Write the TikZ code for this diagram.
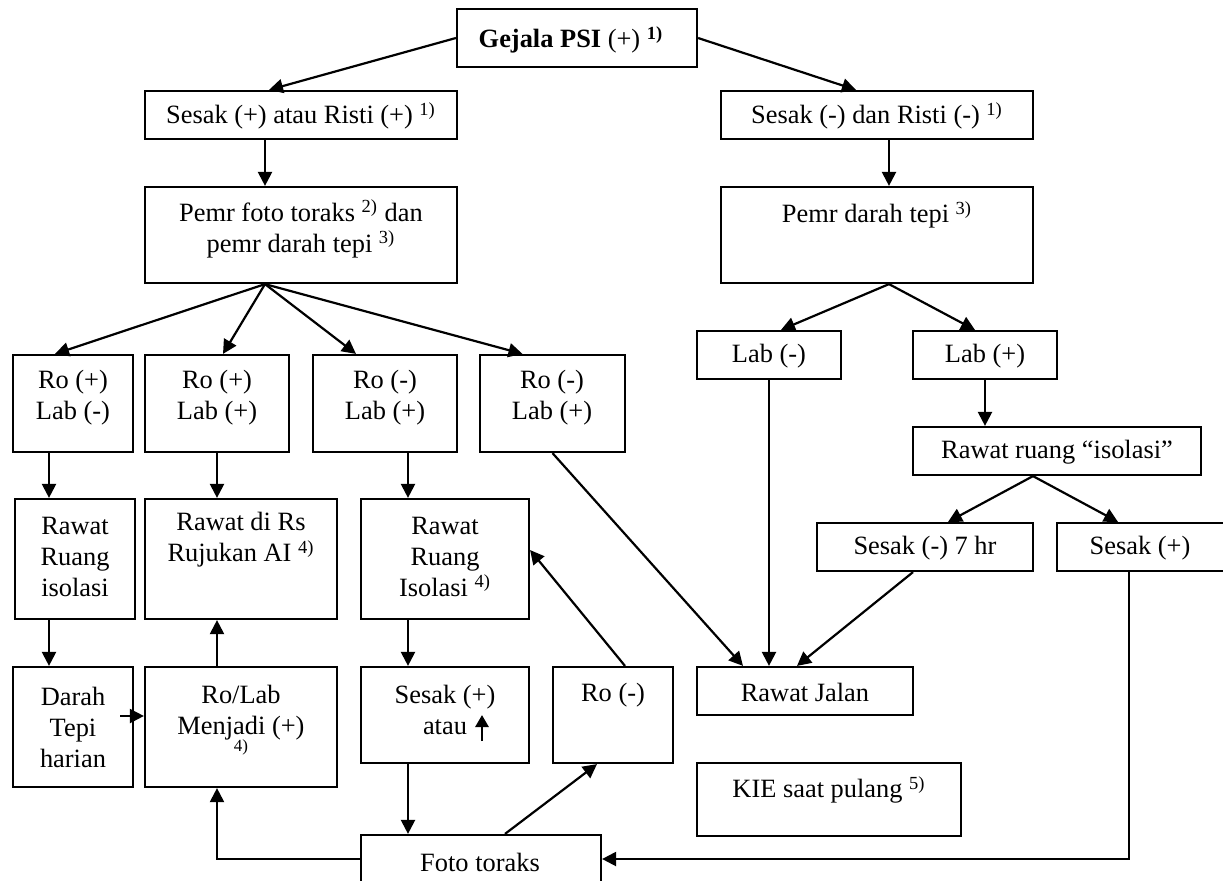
\documentclass[tikz,border=0pt]{standalone}
\usepackage{fontspec}
\setmainfont{Liberation Serif}
\usetikzlibrary{arrows.meta}
\tikzset{every picture/.style={line width=1.1pt}}

\begin{document}
\begin{tikzpicture}[x=0.5pt,y=0.5pt,yscale=-1,xscale=1,
  box/.style={draw, inner sep=0pt},
  txt/.style={inner sep=0pt, align=center, font=\fontsize{13.2}{15.5}\selectfont},
  arr/.style={-{Triangle[length=7pt,width=7pt]}}]
\useasboundingbox (0,0) rectangle (1223,880);

%Boxes: top rows
\node[box, minimum width=120pt, minimum height=29pt] (gejala) at (577,38) {};
\node[box, minimum width=156pt, minimum height=24pt] (sesakp) at (301,115) {};
\node[box, minimum width=156pt, minimum height=24pt] (sesakm) at (877,115) {};
\node[box, minimum width=156pt, minimum height=48pt] (pemrft) at (301,235) {};
\node[box, minimum width=156pt, minimum height=48pt] (pemrdt) at (877,235) {};
%Boxes: Ro / Lab row
\node[box, minimum width=60pt, minimum height=48.5pt] (roA) at (73,403.5) {};
\node[box, minimum width=72pt, minimum height=48.5pt] (roB) at (217,403.5) {};
\node[box, minimum width=72pt, minimum height=48.5pt] (roC) at (385,403.5) {};
\node[box, minimum width=72.5pt, minimum height=48.5pt] (roD) at (552.5,403.5) {};
\node[box, minimum width=72pt, minimum height=24pt] (labm) at (769,355) {};
\node[box, minimum width=72pt, minimum height=24pt] (labp) at (985,355) {};
\node[box, minimum width=144pt, minimum height=24pt] (rawatri) at (1057,451) {};
\node[box, minimum width=108pt, minimum height=24pt] (sesak7) at (925,547) {};
\node[box, minimum width=86pt, minimum height=24pt] (sesakpp) at (1143,547) {};
%Boxes: Rawat row
\node[box, minimum width=60pt, minimum height=60pt] (rawatA) at (75,559) {};
\node[box, minimum width=96pt, minimum height=60pt] (rawatrs) at (241,559) {};
\node[box, minimum width=84pt, minimum height=60pt] (rawatiso) at (445,559) {};
%Boxes: bottom rows
\node[box, minimum width=60pt, minimum height=60pt] (darah) at (73,727) {};
\node[box, minimum width=96pt, minimum height=60pt] (rolab) at (241,727) {};
\node[box, minimum width=84pt, minimum height=48pt] (sesakatau) at (445,715) {};
\node[box, minimum width=60pt, minimum height=48pt] (rom) at (613,715) {};
\node[box, minimum width=108pt, minimum height=24pt] (rawatjalan) at (805,691) {};
\node[box, minimum width=132pt, minimum height=36.5pt] (kie) at (829,799.5) {};
\node[box, minimum width=120pt, minimum height=24pt] (foto) at (481,859) {};

%Texts
\node[txt] (gejala-t) at (571,40) {\textbf{Gejala PSI} (+) \textsuperscript{\textbf{1)}}};
\node[txt] (sesakp-t) at (301,116) {Sesak (+) atau Risti (+) \textsuperscript{1)}};
\node[txt] (sesakm-t) at (877,116) {Sesak (-) dan Risti (-) \textsuperscript{1)}};
\node[txt] (pemrft-t) at (301,229) {Pemr foto toraks \textsuperscript{2)} dan\\pemr darah tepi \textsuperscript{3)}};
\node[txt] (pemrdt-t) at (877,215) {Pemr darah tepi \textsuperscript{3)}};
\node[txt] (roA-t) at (73,398) {Ro (+)\\Lab (-)};
\node[txt] (roB-t) at (217,398) {Ro (+)\\Lab (+)};
\node[txt] (roC-t) at (385,398) {Ro (-)\\Lab (+)};
\node[txt] (roD-t) at (552,398) {Ro (-)\\Lab (+)};
\node[txt] (labm-t) at (769,356) {Lab (-)};
\node[txt] (labp-t) at (985,356) {Lab (+)};
\node[txt] (rawatri-t) at (1057,452) {Rawat ruang “isolasi”};
\node[txt] (sesak7-t) at (925,548) {Sesak (-) 7 hr};
\node[txt] (sesakpp-t) at (1140,548) {Sesak (+)};
\node[txt] (rawatA-t) at (75,557) {Rawat\\Ruang\\isolasi};
\node[txt] (rawatrs-t) at (241,540) {Rawat di Rs\\Rujukan AI \textsuperscript{4)}};
\node[txt] (rawatiso-t) at (445,557) {Rawat\\Ruang\\Isolasi \textsuperscript{4)}};
\node[txt] (darah-t) at (73,727) {Darah\\Tepi\\harian};
\node[txt] (rolab-t) at (241,720) {Ro/Lab\\Menjadi (+)\\[-7pt]{\fontsize{8.5}{9}\selectfont 4)}};
\node[txt] (sesakatau-t) at (445,710) {Sesak (+)\\atau};
\node[txt] (rom-t) at (613,695) {Ro (-)};
\node[txt] (rawatjalan-t) at (805,692) {Rawat Jalan};
\node[txt] (kie-t) at (829,790) {KIE saat pulang \textsuperscript{5)}};
\node[txt] (foto-t) at (480,862) {Foto toraks};
%up arrow after "atau"
\draw[-{Triangle[length=6pt,width=6.5pt]}, line width=1.4pt] (482,741) -- (482,715);

%Connectors
\draw[arr] (gejala.west) -- ([xshift=-16pt]sesakp.north);
\draw[arr] (gejala.east) -- ([xshift=-10.5pt]sesakm.north);
\draw[arr] ([xshift=-18pt]sesakp.south) -- ([xshift=-18pt]pemrft.north);
\draw[arr] ([xshift=6pt]sesakm.south) -- ([xshift=6pt]pemrdt.north);
\draw[arr] ([xshift=-18pt]pemrft.south) -- ([xshift=-9pt]roA.north);
\draw[arr] ([xshift=-18pt]pemrft.south) -- ([xshift=3pt]roB.north);
\draw[arr] ([xshift=-18pt]pemrft.south) -- ([xshift=-14.5pt]roC.north);
\draw[arr] ([xshift=-18pt]pemrft.south) -- ([xshift=-15pt]roD.north);
\draw[arr] ([xshift=6pt]pemrdt.south) -- ([xshift=6pt]labm.north);
\draw[arr] ([xshift=6pt]pemrdt.south) -- ([xshift=-5pt]labp.north);
\draw[arr] ([xshift=-12pt]roA.south) -- ([xshift=-12pt]roA.south |- rawatA.north);
\draw[arr] (roB.south) -- (roB.south |- rawatrs.north);
\draw[arr] ([xshift=11.5pt]roC.south) -- ([xshift=11.5pt]roC.south |- rawatiso.north);
\draw[arr] (roD.south) -- ([xshift=-31pt]rawatjalan.north);
\draw[arr] (labm.south) -- (labm.south |- rawatjalan.north);
\draw[arr] ([xshift=-6pt]sesak7.south) -- ([xshift=-4pt]rawatjalan.north);
\draw[arr] (labp.south) -- (labp.south |- rawatri.north);
\draw[arr] ([xshift=-12pt]rawatri.south) -- ([xshift=11.5pt]sesak7.north);
\draw[arr] ([xshift=-12pt]rawatri.south) -- ([xshift=-12.5pt]sesakpp.north);
\draw[arr] ([xshift=-7pt]sesakpp.south) |- (foto.east);
\draw[arr] ([xshift=-13pt]rawatA.south) -- ([xshift=-13pt]rawatA.south |- darah.north);
\coordinate (dtip) at (120,716);
\draw[arr] (dtip) -- (dtip -| rolab.west);
\draw[arr] ([xshift=-12pt]rolab.north) -- ([xshift=-12pt]rolab.north |- rawatrs.south);
\draw[arr] (foto.west) -| ([xshift=-12pt]rolab.south);
\draw[arr] ([xshift=-18.5pt]rawatiso.south) -- ([xshift=-18.5pt]rawatiso.south |- sesakatau.north);
\draw[arr] ([xshift=-18.5pt]sesakatau.south) -- ([xshift=-18.5pt]sesakatau.south |- foto.north);
\draw[arr] ([xshift=12pt]foto.north) -- ([xshift=-8pt]rom.south);
\draw[arr] ([xshift=6pt]rom.north) -- (rawatiso.6);

\end{tikzpicture}
\end{document}
